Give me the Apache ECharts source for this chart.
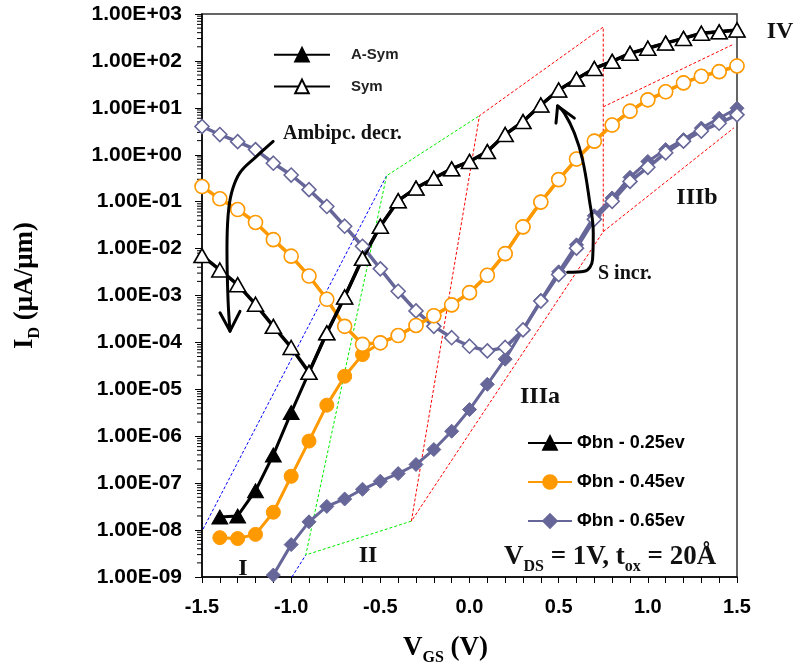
<!DOCTYPE html>
<html>
<head>
<meta charset="utf-8">
<script src="https://cdn.jsdelivr.net/npm/echarts@6/dist/echarts.min.js"></script>
<style>
  html, body { margin: 0; padding: 0; background: #fff; }
  #chart { width: 797px; height: 671px; }
</style>
</head>
<body>
<div id="chart"></div>
<script>
// Gate voltage sweep (V)
var vgs = [-1.5, -1.4, -1.3, -1.2, -1.1, -1.0, -0.9, -0.8, -0.7, -0.6, -0.5,
  -0.4, -0.3, -0.2, -0.1, 0.0, 0.1, 0.2, 0.3, 0.4, 0.5,
  0.6, 0.7, 0.8, 0.9, 1.0, 1.1, 1.2, 1.3, 1.4, 1.5];

// I_D (uA/um), Φbn = 0.25 eV
var asym025 = [null, 1.9e-8, 2.0e-8, 6.9e-8, 4.0e-7, 3.2e-6, 2.3e-5, 1.6e-4, 9.3e-4, 6.2e-3, 3.0e-2,
  0.105, 0.195, 0.316, 0.50, 0.72, 1.17, 2.7, 5.1, 11.5, 24,
  41, 69, 98, 145, 186, 240, 302, 389, 417, 457];
var sym025 = [7.1e-3, 3.5e-3, 1.7e-3, 6.5e-4, 2.2e-4, 7.8e-5, 2.3e-5, 1.6e-4, 9.3e-4, 6.2e-3, 3.0e-2,
  0.105, 0.195, 0.316, 0.50, 0.72, 1.17, 2.7, 5.1, 11.5, 24,
  41, 69, 98, 145, 186, 240, 302, 389, 417, 457];

// Φbn = 0.45 eV
var asym045 = [null, 6.9e-9, 6.6e-9, 8.1e-9, 2.4e-8, 1.4e-7, 7.9e-7, 4.6e-6, 1.9e-5, 5.5e-5, 9.8e-5,
  1.4e-4, 2.3e-4, 3.7e-4, 6.3e-4, 1.15e-3, 2.7e-3, 7.8e-3, 0.029, 0.098, 0.295,
  0.81, 1.95, 4.3, 8.5, 14.8, 22, 34, 47, 59, 78];
var sym045 = [0.21, 0.115, 0.068, 0.036, 0.0155, 6.9e-3, 2.6e-3, 8.3e-4, 2.2e-4, 9.1e-5, 9.8e-5,
  1.4e-4, 2.3e-4, 3.7e-4, 6.3e-4, 1.15e-3, 2.7e-3, 7.8e-3, 0.029, 0.098, 0.295,
  0.81, 1.95, 4.3, 8.5, 14.8, 22, 34, 47, 59, 78];

// Φbn = 0.65 eV
var asym065 = [null, null, null, null, 1.1e-9, 4.9e-9, 1.5e-8, 3.2e-8, 4.6e-8, 7.4e-8, 1.1e-7,
  1.6e-7, 2.5e-7, 5.2e-7, 1.28e-6, 3.7e-6, 1.28e-5, 4.4e-5, 1.85e-4, 7.9e-4, 3.2e-3,
  0.012, 0.050, 0.12, 0.33, 0.72, 1.29, 2.1, 3.7, 6.0, 9.8];
var sym065 = [4.0, 2.7, 1.9, 1.29, 0.66, 0.37, 0.18, 0.079, 0.030, 0.0112, 3.7e-3,
  1.23e-3, 4.7e-4, 2.2e-4, 1.26e-4, 8.3e-5, 6.6e-5, 7.8e-5, 1.85e-4, 7.6e-4, 2.8e-3,
  0.0102, 0.042, 0.102, 0.27, 0.54, 1.10, 1.95, 3.2, 4.7, 7.1];

// region outlines (V, I_D)
var regionBlue1 = [[-1.494, 1.05e-8], [-0.465, 0.357]];
var regionBlue2 = [[-0.996, 1e-9], [-0.918, 2.95e-9]];
var regionGreen = [[-0.326, 1.55e-8], [-0.918, 2.95e-9], [-0.465, 0.357], [0.056, 6.8]];
var regionRed = [[-0.326, 1.55e-8], [0.056, 6.8], [0.75, 528], [0.75, 0.023], [-0.326, 1.55e-8]];
var regionIIIbTop = [[0.75, 10.5], [1.483, 229]];
var regionIIIbLow = [[0.75, 0.023], [1.483, 3.75]];

// annotation arrows (V, I_D)
var arrowAmbi = [[-1.101, 1.92], [-1.194, 0.92], [-1.287, 0.414], [-1.334, 0.155], [-1.354, 0.0487],
  [-1.360, 0.0095], [-1.354, 8.2e-4], [-1.343, 1.74e-4]];
var arrowAmbiHead = [[-1.399, 4.3e-4], [-1.343, 1.74e-4], [-1.287, 4.6e-4]];
var arrowS = [[0.550, 3.13e-3], [0.644, 3.29e-3], [0.690, 5.83e-3], [0.694, 0.0216], [0.672, 0.110],
  [0.634, 0.783], [0.588, 2.9], [0.532, 7.7], [0.494, 11.0]];
var arrowSHead = [[0.485, 4.72], [0.494, 11.0], [0.588, 6.04]];

var BLACK = "#000000";
var ORANGE = "#ff9900";
var PURPLE = "#666699";
var SERIF = '"Liberation Serif", "Times New Roman", serif';
var SANS = '"Liberation Sans", Arial, sans-serif';

function pairs(ys) {
  var out = [];
  for (var i = 0; i < vgs.length; i++) {
    if (ys[i] != null) out.push([vgs[i], ys[i]]);
  }
  return out;
}

function curve(name, ys, color, symbol, size, open, width) {
  return {
    name: name,
    type: "line",
    data: pairs(ys),
    symbol: symbol,
    symbolSize: size,
    showAllSymbol: true,
    lineStyle: { color: color, width: width || 3 },
    itemStyle: open
      ? { color: "#ffffff", borderColor: color, borderWidth: 1.6 }
      : { color: color, borderColor: color, borderWidth: 1 },
    emphasis: { disabled: true },
    animation: false
  };
}

function legendOnly(name, color, symbol, open) {
  var s = curve(name, [], color, symbol, 14, open);
  s.data = [];
  return s;
}

function guide(data, color) {
  return {
    type: "line",
    data: data,
    symbol: "none",
    silent: true,
    lineStyle: { color: color, width: 1, type: [3, 2] },
    animation: false
  };
}

function arrowPart(data, smooth) {
  return {
    type: "line",
    data: data,
    symbol: "none",
    smooth: smooth,
    silent: true,
    lineStyle: { color: BLACK, width: 3, cap: "round", join: "round" },
    z: 5,
    animation: false
  };
}

function sci(v) {
  var e = Math.round(Math.log10(v));
  var a = Math.abs(e);
  return "1.00E" + (e < 0 ? "-" : "+") + (a < 10 ? "0" : "") + a;
}

// log-spaced minor ticks (2..9 per decade) on the left axis
var minorTickVals = [];
for (var k = -9; k < 3; k++) {
  for (var m = 2; m <= 9; m++) minorTickVals.push([-1.5, m * Math.pow(10, k)]);
}

var titleRich = {
  v: { fontFamily: SERIF, fontWeight: "bold", fontSize: 27, color: "#000", lineHeight: 30, verticalAlign: "top" },
  s: { fontFamily: SERIF, fontWeight: "bold", fontSize: 16, color: "#000", lineHeight: 16, verticalAlign: "top", padding: [15, 0, 0, 0] }
};

var chart = echarts.init(document.getElementById("chart"));

chart.setOption({
  backgroundColor: "#ffffff",
  animation: false,
  grid: {
    left: 202, right: 60, top: 14, bottom: 93,
    show: true, borderColor: "#333333", borderWidth: 1.5
  },
  xAxis: {
    type: "value",
    min: -1.5, max: 1.5, interval: 0.5,
    name: "{v|V}{s|GS}{v| (V)}",
    nameLocation: "middle",
    nameGap: 58,
    nameTextStyle: { rich: titleRich, padding: [0, 48, 0, 0] },
    axisLine: { onZero: false, lineStyle: { color: "#000", width: 1.5 } },
    axisTick: { length: 6, lineStyle: { color: "#000" } },
    minorTick: { show: true, splitNumber: 5, length: 6, lineStyle: { color: "#000" } },
    splitLine: { show: false },
    axisLabel: {
      margin: 20,
      fontFamily: SANS, fontWeight: "bold", fontSize: 20, color: "#000",
      formatter: function (v) { return v.toFixed(1); }
    }
  },
  yAxis: {
    type: "log",
    logBase: 10,
    min: 1e-9, max: 1e3,
    interval: 1,
    name: "{v|I}{s|D}{v| (μA/μm)}",
    nameLocation: "middle",
    nameGap: 160,
    nameRotate: 90,
    nameTextStyle: { rich: titleRich, padding: [0, 0, 0, 20] },
    axisLine: { show: true, onZero: false, lineStyle: { color: "#000", width: 1.5 } },
    axisTick: { show: true, length: 7, lineStyle: { color: "#000" } },
    minorTick: { show: false },
    splitLine: { show: false },
    axisLabel: {
      margin: 20,
      fontFamily: SANS, fontWeight: "bold", fontSize: 21, color: "#000",
      formatter: sci
    }
  },
  legend: [
    {
      data: ["A-Sym", "Sym"],
      orient: "vertical",
      left: 273, top: 47, padding: 0,
      itemWidth: 56, itemHeight: 17, itemGap: 16,
      selectedMode: false,
      textStyle: { fontFamily: SANS, fontWeight: "bold", fontSize: 15, color: "#222", padding: [0, 0, 0, 16] }
    },
    {
      data: ["Φbn - 0.25ev", "Φbn - 0.45ev", "Φbn - 0.65ev"],
      orient: "vertical",
      left: 527, top: 434, padding: 0,
      itemWidth: 44, itemHeight: 17, itemGap: 21,
      selectedMode: false,
      textStyle: { fontFamily: SANS, fontWeight: "bold", fontSize: 18, color: "#000" }
    }
  ],
  graphic: [
    { type: "text", x: 780, y: 32, style: { text: "IV", font: "bold 24px " + SERIF, fill: "#111", align: "center", verticalAlign: "middle" } },
    { type: "text", x: 697, y: 198, style: { text: "IIIb", font: "bold 24px " + SERIF, fill: "#111", align: "center", verticalAlign: "middle" } },
    { type: "text", x: 540, y: 397, style: { text: "IIIa", font: "bold 24px " + SERIF, fill: "#111", align: "center", verticalAlign: "middle" } },
    { type: "text", x: 368, y: 556, style: { text: "II", font: "bold 24px " + SERIF, fill: "#111", align: "center", verticalAlign: "middle" } },
    { type: "text", x: 243, y: 569, style: { text: "I", font: "bold 24px " + SERIF, fill: "#111", align: "center", verticalAlign: "middle" } },
    { type: "text", x: 283, y: 134, style: { text: "Ambipc. decr.", font: "bold 20px " + SERIF, fill: "#111", align: "left", verticalAlign: "middle" } },
    { type: "text", x: 598, y: 274, style: { text: "S incr.", font: "bold 20px " + SERIF, fill: "#111", align: "left", verticalAlign: "middle" } },
    {
      type: "text", x: 504, y: 544,
      style: {
        text: "{v|V}{s|DS}{v| = 1V, t}{s|ox}{v| = 20Å}",
        rich: {
          v: { fontFamily: SERIF, fontWeight: "bold", fontSize: 27, fill: "#111", lineHeight: 30, verticalAlign: "top" },
          s: { fontFamily: SERIF, fontWeight: "bold", fontSize: 16, fill: "#111", lineHeight: 16, verticalAlign: "top", padding: [15, 0, 0, 0] }
        }
      }
    }
  ],
  series: [
    {
      type: "custom",
      data: minorTickVals,
      silent: true,
      clip: false,
      encode: { x: 0, y: 1 },
      renderItem: function (params, api) {
        var p = api.coord([api.value(0), api.value(1)]);
        return {
          type: "line",
          shape: { x1: p[0] - 5, y1: p[1], x2: p[0], y2: p[1] },
          style: { stroke: "#000", lineWidth: 1 }
        };
      },
      animation: false
    },

    guide(regionBlue1, "#0000ff"),
    guide(regionBlue2, "#0000ff"),
    guide(regionGreen, "#00ee00"),
    guide(regionRed, "#ff0000"),
    guide(regionIIIbTop, "#ff0000"),
    guide(regionIIIbLow, "#ff0000"),

    curve("A-Sym 0.65", asym065, PURPLE, "diamond", 14, false),
    curve("Sym 0.65", sym065, PURPLE, "diamond", 14, true, 3.5),
    curve("A-Sym 0.45", asym045, ORANGE, "circle", 14, false),
    curve("Sym 0.45", sym045, ORANGE, "circle", 14, true, 3.5),
    curve("A-Sym 0.25", asym025, BLACK, "triangle", [16, 14], false),
    curve("Sym 0.25", sym025, BLACK, "triangle", [16, 14], true, 3.5),

    legendOnly("A-Sym", BLACK, "triangle", false),
    legendOnly("Sym", BLACK, "triangle", true),
    legendOnly("Φbn - 0.25ev", BLACK, "triangle", false),
    legendOnly("Φbn - 0.45ev", ORANGE, "circle", false),
    legendOnly("Φbn - 0.65ev", PURPLE, "diamond", false),

    arrowPart(arrowAmbi, 0.4),
    arrowPart(arrowAmbiHead, false),
    arrowPart(arrowS, 0.4),
    arrowPart(arrowSHead, false)
  ]
});
</script>
</body>
</html>
